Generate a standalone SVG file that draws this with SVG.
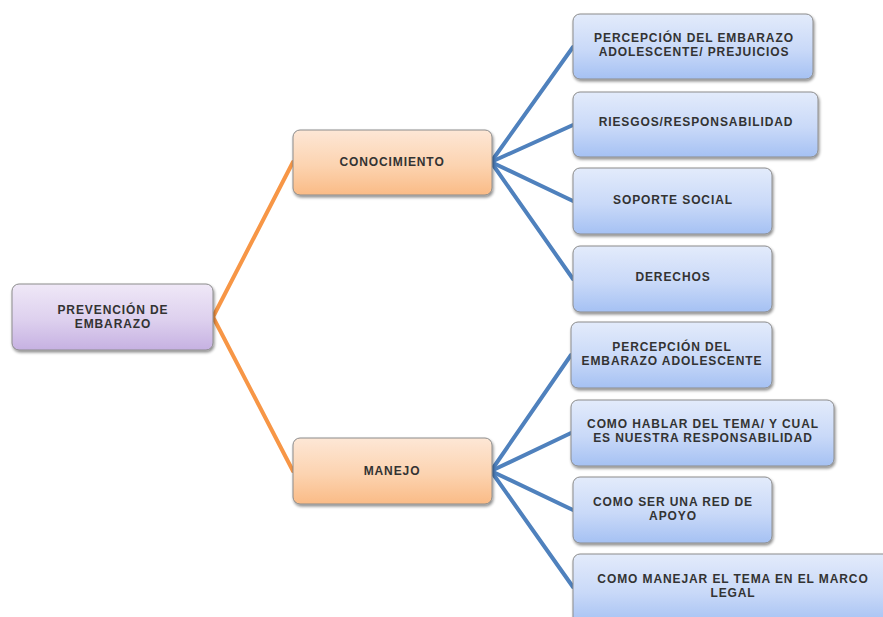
<svg xmlns="http://www.w3.org/2000/svg" width="883" height="617" viewBox="0 0 883 617">
<defs>
<linearGradient id="gBlue" x1="0" y1="0" x2="0" y2="1">
<stop offset="0" stop-color="#e3ebfb"/>
<stop offset="0.55" stop-color="#c9d9f8"/>
<stop offset="1" stop-color="#a5c1f3"/>
</linearGradient>
<linearGradient id="gOrange" x1="0" y1="0" x2="0" y2="1">
<stop offset="0" stop-color="#fde7d6"/>
<stop offset="0.55" stop-color="#fcd3b0"/>
<stop offset="1" stop-color="#fabb86"/>
</linearGradient>
<linearGradient id="gPurple" x1="0" y1="0" x2="0" y2="1">
<stop offset="0" stop-color="#efe8f7"/>
<stop offset="0.55" stop-color="#ddd0ee"/>
<stop offset="1" stop-color="#c6b1e2"/>
</linearGradient>
<filter id="sh" x="-10%" y="-10%" width="125%" height="135%">
<feGaussianBlur in="SourceAlpha" stdDeviation="1.5"/>
<feOffset dx="1" dy="2" result="b"/>
<feComponentTransfer><feFuncA type="linear" slope="0.45"/></feComponentTransfer>
<feMerge><feMergeNode/><feMergeNode in="SourceGraphic"/></feMerge>
</filter>
</defs>
<style>
rect{stroke:#8c8c8c;stroke-width:1;filter:url(#sh)}
.b{fill:url(#gBlue)}
.o{fill:url(#gOrange)}
.p{fill:url(#gPurple)}
text{font-family:"Liberation Sans",Arial,sans-serif;font-size:12px;font-weight:bold;fill:#333333;text-anchor:middle;letter-spacing:0.9px}
.cb{stroke:#4f81bd;stroke-width:4;fill:none;stroke-linecap:round}
.co{stroke:#f79646;stroke-width:4;fill:none;stroke-linecap:round}
</style>
<rect width="883" height="617" fill="#ffffff" style="stroke:none;filter:none"/>
<g id="connectors">
<path class="co" d="M213 317 L293 162"/>
<path class="co" d="M213 317 L293 471"/>
<path class="cb" d="M491 162 L573 47"/>
<path class="cb" d="M491 162 L573 125"/>
<path class="cb" d="M491 162 L573 201"/>
<path class="cb" d="M491 162 L573 279"/>
<path class="cb" d="M491 471 L571 355"/>
<path class="cb" d="M491 471 L571 433"/>
<path class="cb" d="M491 471 L573 510"/>
<path class="cb" d="M491 471 L573 587"/>
</g>
<g id="root">
<rect class="p" x="12" y="284" width="201" height="66" rx="7"/>
<text x="113" y="314">PREVENCIÓN DE</text>
<text x="113" y="328">EMBARAZO</text>
</g>
<g id="conocimiento">
<rect class="o" x="293" y="130" width="199" height="65" rx="7"/>
<text x="392" y="166">CONOCIMIENTO</text>
</g>
<g id="manejo">
<rect class="o" x="293" y="438" width="199" height="66" rx="7"/>
<text x="392" y="475">MANEJO</text>
</g>
<g id="c1">
<rect class="b" x="573" y="14" width="240" height="65" rx="7"/>
<text x="694" y="42">PERCEPCIÓN DEL EMBARAZO</text>
<text x="694" y="56">ADOLESCENTE/ PREJUICIOS</text>
</g>
<g id="c2">
<rect class="b" x="573" y="92" width="245" height="65" rx="7"/>
<text x="696" y="126">RIESGOS/RESPONSABILIDAD</text>
</g>
<g id="c3">
<rect class="b" x="573" y="168" width="199" height="66" rx="7"/>
<text x="673" y="204">SOPORTE SOCIAL</text>
</g>
<g id="c4">
<rect class="b" x="573" y="246" width="199" height="66" rx="7"/>
<text x="673" y="281">DERECHOS</text>
</g>
<g id="m1">
<rect class="b" x="571" y="322" width="201" height="66" rx="7"/>
<text x="672" y="351">PERCEPCIÓN DEL</text>
<text x="672" y="365">EMBARAZO ADOLESCENTE</text>
</g>
<g id="m2">
<rect class="b" x="571" y="400" width="263" height="66" rx="7"/>
<text x="703" y="428">COMO HABLAR DEL TEMA/ Y CUAL</text>
<text x="703" y="442">ES NUESTRA RESPONSABILIDAD</text>
</g>
<g id="m3">
<rect class="b" x="573" y="477" width="199" height="66" rx="7"/>
<text x="673" y="506">COMO SER UNA RED DE</text>
<text x="673" y="520">APOYO</text>
</g>
<g id="m4">
<rect class="b" x="573" y="554" width="318" height="70" rx="7"/>
<text x="733" y="583">COMO MANEJAR EL TEMA EN EL MARCO</text>
<text x="733" y="597">LEGAL</text>
</g>
</svg>
